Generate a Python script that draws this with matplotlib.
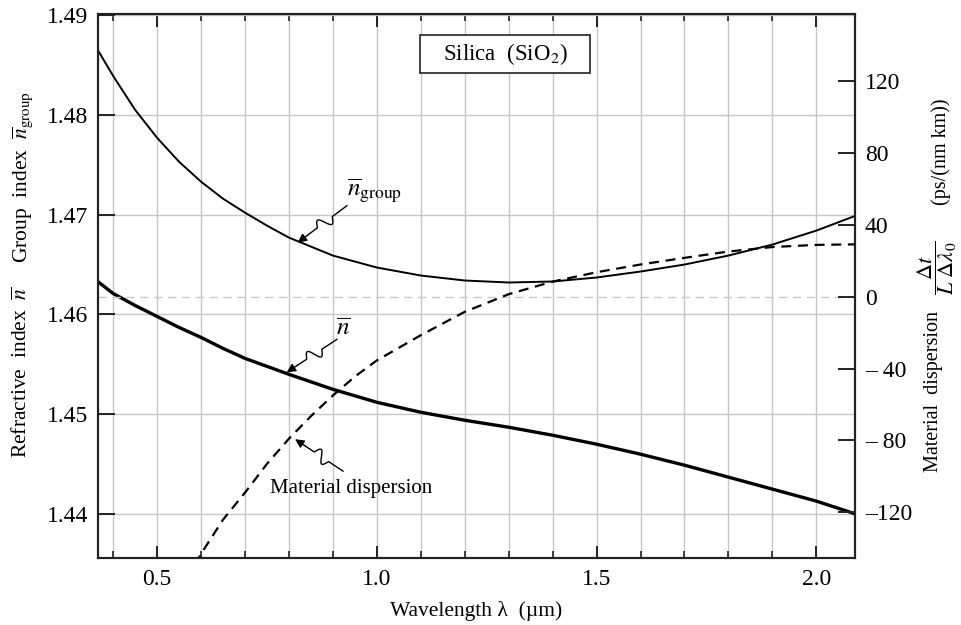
import numpy as np
import matplotlib
matplotlib.use("Agg")
import matplotlib.pyplot as plt
from matplotlib.patches import Rectangle

plt.rcParams['font.family'] = ['Liberation Serif', 'DejaVu Serif']
plt.rcParams['mathtext.fontset'] = 'stix'

# values
wavelength = [0.365, 0.4, 0.45, 0.5, 0.55, 0.6, 0.65, 0.7, 0.75, 0.8, 0.9,
              1.0, 1.1, 1.2, 1.3, 1.4, 1.5, 1.6, 1.7, 1.8, 1.9, 2.0, 2.09]
n_index = [1.4633, 1.4621, 1.4609, 1.4598, 1.4587, 1.4577, 1.4566, 1.4556,
           1.4548, 1.4540, 1.4525, 1.4512, 1.4502, 1.4494, 1.4487, 1.4479,
           1.4470, 1.4460, 1.4449, 1.4437, 1.4425, 1.4413, 1.4400]
n_group = [1.4865, 1.4839, 1.4805, 1.4777, 1.4753, 1.4733, 1.4716, 1.4702,
           1.4689, 1.4677, 1.4659, 1.4647, 1.4639, 1.4634, 1.4632, 1.4633,
           1.4637, 1.4643, 1.4650, 1.4659, 1.4670, 1.4684, 1.4699]
disp_wl = [0.55, 0.6, 0.65, 0.7, 0.75, 0.8, 0.85, 0.9, 0.95, 1.0, 1.1, 1.2,
           1.3, 1.4, 1.5, 1.6, 1.7, 1.8, 1.9, 2.0, 2.09]
dispersion = [-165, -143, -124, -109, -93, -79, -66.5, -55, -44.5, -35.5,
              -21.5, -8.5, 1.3, 8.3, 13.5, 17.8, 21.5, 25, 27.5, 28.7, 29]

left_ticks = [1.44, 1.45, 1.46, 1.47, 1.48, 1.49]
left_labels = ['1.44', '1.45', '1.46', '1.47', '1.48', '1.49']
right_ticks = [-120, -80, -40, 0, 40, 80, 120]
right_labels = ['\u2013120', '\u2013 80', '\u2013 40', '0', '40', '80', '120']
x_ticks = [0.5, 1.0, 1.5, 2.0]
x_labels = ['0.5', '1.0', '1.5', '2.0']

fig = plt.figure(figsize=(9.62, 6.25), dpi=100)
ax = fig.add_axes([0.1016, 0.1072, 0.7872, 0.8704])
ax2 = ax.twinx()

ax.set_xlim(0.365, 2.088)
ax.set_ylim(1.4356, 1.4901)
ax2.set_ylim(-145.3, 157.0)

grid_c = '#c6c6c6'
ax.set_xticks(x_ticks)
ax.set_xticklabels(x_labels)
ax.set_xticks(np.arange(0.4, 2.05, 0.1), minor=True)
ax.set_yticks(left_ticks)
ax.set_yticklabels(left_labels)
ax.grid(True, which='both', axis='x', color=grid_c, lw=1.0)
ax.grid(True, which='major', axis='y', color=grid_c, lw=1.0)
ax.set_axisbelow(True)

ax.tick_params(axis='x', which='major', direction='in', top=True, length=9,
               width=1.4, labelsize=17, pad=8, color='#222222')
ax.tick_params(axis='x', which='minor', direction='in', top=True, length=5,
               width=1.2, color='#222222')
ax.tick_params(axis='y', direction='in', right=False, length=12, width=1.4,
               labelsize=17, pad=7, color='#222222')

ax2.set_yticks(right_ticks)
ax2.set_yticklabels(right_labels)
ax2.tick_params(axis='y', direction='in', length=12, width=1.4,
                labelsize=17, pad=7, color='#222222')

for a in (ax, ax2):
    for s in a.spines.values():
        s.set_linewidth(1.5)
        s.set_color('#222222')

ax2.axhline(0, color='#c8c8c8', lw=1.0, ls=(0, (6, 4)), zorder=1)

ax.plot(wavelength, n_index, color='black', lw=2.4, zorder=3)
ax.plot(wavelength, n_group, color='black', lw=1.4, zorder=3)
ax2.plot(disp_wl, dispersion, color='black', lw=1.6, ls=(0, (4.5, 3)), zorder=3)


def squiggle(start, tip, amp=6.0):
    # wavy leader line with an arrow head, drawn in pixel space
    tr = ax.transData
    p0 = tr.transform(start)
    p1 = tr.transform(tip)
    d = p1 - p0
    L = np.hypot(*d)
    u = d / L
    nv = np.array([-u[1], u[0]])
    t = np.linspace(0, 0.78, 200)
    off = np.where((t > 0.3) & (t < 0.6), amp * np.sin(2 * np.pi * (t - 0.3) / 0.3), 0)
    pts = p0 + np.outer(t, d) + np.outer(off, nv)
    data = tr.inverted().transform(pts)
    ax.plot(data[:, 0], data[:, 1], color='black', lw=1.0, zorder=4)
    ax.annotate('', xy=tip, xytext=tuple(data[-1]),
                arrowprops=dict(arrowstyle='-|>', color='black', lw=1.0,
                                mutation_scale=13, shrinkA=0, shrinkB=0),
                zorder=4)


squiggle((0.932, 1.4709), (0.82, 1.4672))
squiggle((0.909, 1.4575), (0.795, 1.4542))
squiggle((0.923, 1.4443), (0.814, 1.4475))

ax.text(0.932, 1.4724, r'$\overline{n}_{\mathrm{group}}$', fontsize=18,
        ha='left', va='center')
ax.text(0.923, 1.4586, r'$\overline{n}$', fontsize=18, ha='center', va='center')
ax.text(0.941, 1.4426, 'Material dispersion', fontsize=15, ha='center', va='center')

# title box
ax.add_patch(Rectangle((0.4256, 0.8915), 0.2244, 0.0699, transform=ax.transAxes,
                       fc='white', ec='#222222', lw=1.2, zorder=5))
ax.text(0.538, 0.9265, 'Silica  (SiO$_2$)', fontsize=16.5, ha='center',
        va='center', transform=ax.transAxes, zorder=6)

ax.set_xlabel('Wavelength \u03bb  (\u00b5m)', fontsize=15.5, labelpad=8)

fig.text(0.023, 1 - 177 / 625, r'Group  index  $\overline{n}_{\mathrm{group}}$',
         rotation=90, fontsize=15.5, ha='center', va='center')
fig.text(0.023, 1 - 372 / 625, r'Refractive  index  $\overline{n}$',
         rotation=90, fontsize=15.5, ha='center', va='center')

fig.text(934 / 962, 1 - 392 / 625, 'Material  dispersion', rotation=90,
         fontsize=14.5, ha='center', va='center')
fig.text(937 / 962, 1 - 268 / 625, r'$\dfrac{\Delta t}{L\ \Delta\lambda_0}$',
         rotation=90, fontsize=16, ha='center', va='center')
fig.text(941 / 962, 1 - 152 / 625, '(ps/(nm km))', rotation=90,
         fontsize=14.5, ha='center', va='center')

fig.savefig('out.png', dpi=100)
